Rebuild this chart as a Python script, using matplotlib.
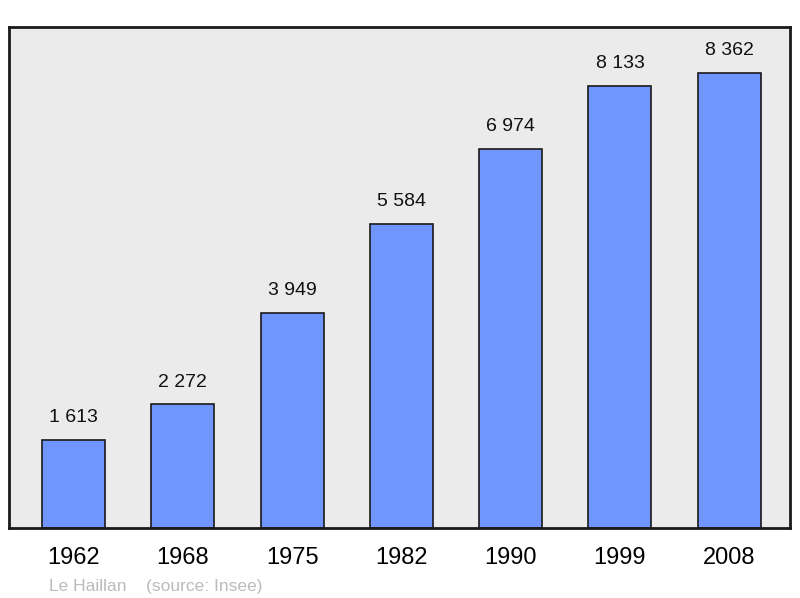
import matplotlib
matplotlib.use("Agg")
import matplotlib.pyplot as plt

## population data
years = ["1962", "1968", "1975", "1982", "1990", "1999", "2008"]
population = [1613, 2272, 3949, 5584, 6974, 8133, 8362]
labels = ["1 613", "2 272", "3 949", "5 584", "6 974", "8 133", "8 362"]

plt.rcParams['font.family'] = ['Liberation Sans', 'DejaVu Sans']

fig = plt.figure(figsize=(8.0, 5.98), dpi=100)
ax = fig.add_axes([0.01125, 0.117, 0.97625, 0.8378])
ax.set_facecolor("#ebebeb")

x = range(len(years))
ax.bar(x, population, width=0.576, color="#7095ff", edgecolor="#1a1a1a",
       linewidth=1.2, zorder=2)

for xi, v, lab in zip(x, population, labels):
    ax.text(xi, v + 410, lab, ha="center", va="center", fontsize=14, color="#111111")

ax.set_xlim(-0.59, 6.556)
ax.set_ylim(0, 9208)
ax.set_xticks(list(x))
ax.set_xticklabels(years, fontsize=17)
ax.tick_params(axis="x", length=0, pad=14)
ax.set_yticks([])

for s in ax.spines.values():
    s.set_linewidth(2)
    s.set_color("#1a1a1a")

fig.text(0.061, 0.011, "Le Haillan    (source: Insee)", fontsize=12.5, color="#bbbbbb")

fig.savefig("out.png", dpi=100)
